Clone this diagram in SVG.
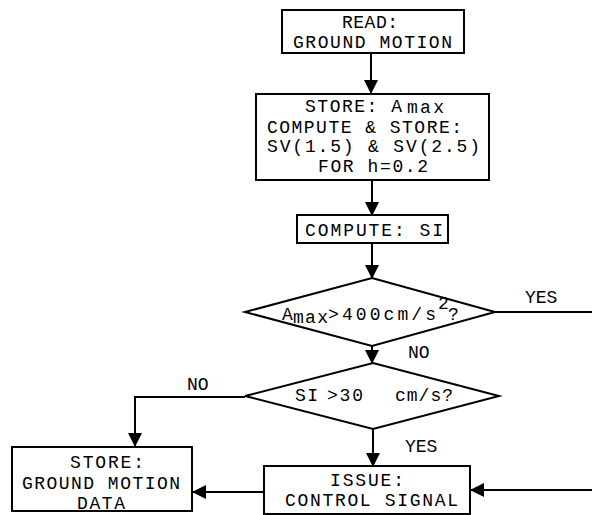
<svg xmlns="http://www.w3.org/2000/svg" width="592" height="515" viewBox="0 0 592 515">
<style>
.b{fill:#fff;stroke:#000;stroke-width:2}
.c{fill:none;stroke:#000;stroke-width:2}
text{font-family:"Liberation Mono","Courier New",monospace;font-size:18px;fill:#000}
</style>
<defs>
<marker id="ah" markerUnits="userSpaceOnUse" markerWidth="14" markerHeight="14" viewBox="0 0 14 14" refX="13" refY="7" orient="auto">
<path d="M0,0 L14,7 L0,14 Z" fill="#000"/>
</marker>
</defs>
<rect width="592" height="515" fill="#fff"/>
<g id="connectors">
<path class="c" d="M371,53 V93" marker-end="url(#ah)"/>
<path class="c" d="M372,180 V215" marker-end="url(#ah)"/>
<path class="c" d="M372,243 V278" marker-end="url(#ah)"/>
<path class="c" d="M372,346 V363" marker-end="url(#ah)"/>
<path class="c" d="M495,312 H592"/>
<path class="c" d="M245,397 H135 V446" marker-end="url(#ah)"/>
<path class="c" d="M373,429 V466" marker-end="url(#ah)"/>
<path class="c" d="M264,492 H193" marker-end="url(#ah)"/>
<path class="c" d="M592,490 H471" marker-end="url(#ah)"/>
<text x="525" y="303">YES</text>
<text x="408" y="358">NO</text>
<text x="187" y="390">NO</text>
<text x="405" y="452">YES</text>
</g>
<g id="read">
<rect class="b" x="282" y="10" width="182" height="43"/>
<text x="342" y="28" textLength="56">READ:</text>
<text x="293" y="48" textLength="159">GROUND MOTION</text>
</g>
<g id="store1">
<rect class="b" x="256" y="94" width="233" height="86"/>
<text x="305" y="112" textLength="97">STORE: A</text>
<text x="407" y="113" font-size="17" textLength="37">max</text>
<text x="267" y="133" textLength="195">COMPUTE &amp; STORE:</text>
<text x="267" y="152" textLength="213">SV(1.5) &amp; SV(2.5)</text>
<text x="318" y="172" textLength="110">FOR h=0.2</text>
</g>
<g id="compute">
<rect class="b" x="297" y="215" width="151" height="28"/>
<text x="305" y="236" textLength="138">COMPUTE: SI</text>
</g>
<g id="dec1">
<polygon class="b" points="372,278 495,312 372,346 245,312"/>
<text x="282" y="320">A</text>
<text x="293" y="323" textLength="35">max</text>
<text x="328" y="320" textLength="108">&gt;400cm/s</text>
<text x="438" y="309" font-size="9">2</text>
<text x="448" y="320">?</text>
</g>
<g id="dec2">
<polygon class="b" points="373,363 499,396 373,429 245,396"/>
<text x="295" y="401" textLength="23">SI</text>
<text x="327" y="401" textLength="36">&gt;30</text>
<text x="395" y="401" textLength="58">cm/s?</text>
</g>
<g id="store2">
<rect class="b" x="12" y="447" width="180" height="64"/>
<text x="70" y="468" textLength="74">STORE:</text>
<text x="22" y="489" textLength="158">GROUND MOTION</text>
<text x="77" y="509" textLength="48">DATA</text>
</g>
<g id="issue">
<rect class="b" x="264" y="466" width="206" height="48"/>
<text x="330" y="486" textLength="74">ISSUE:</text>
<text x="285" y="506" textLength="173">CONTROL SIGNAL</text>
</g>
</svg>
